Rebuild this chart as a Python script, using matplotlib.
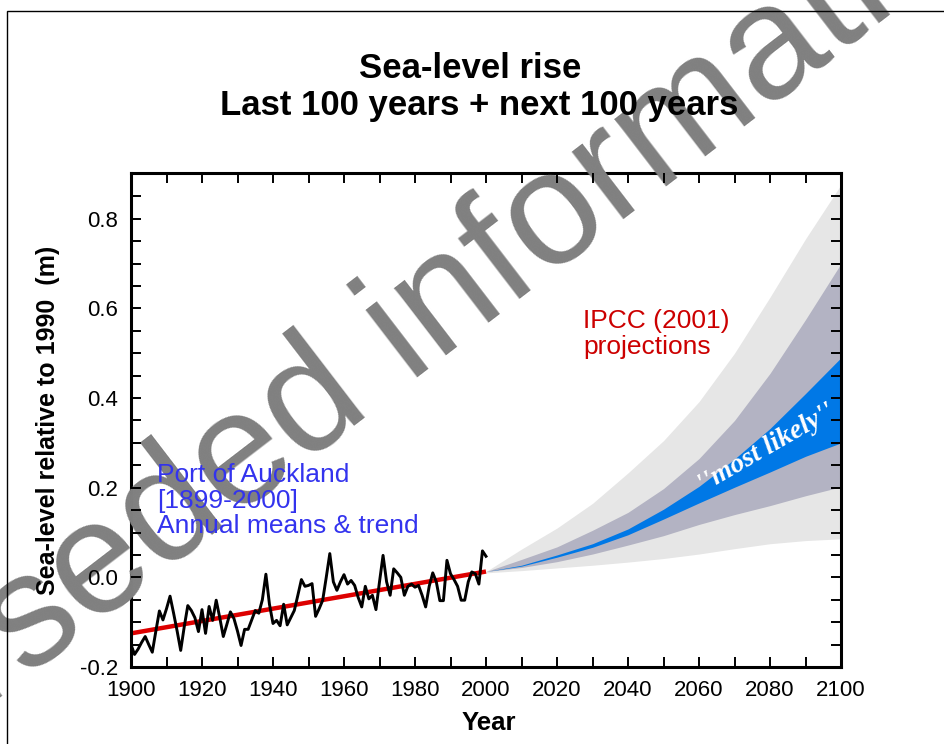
import matplotlib
matplotlib.use("Agg")
import matplotlib.pyplot as plt
from matplotlib.patches import Rectangle
import numpy as np

# ---------------- data ----------------
years_obs = list(range(1900, 2001))
sea_level_obs = [
    -0.150, -0.172, -0.160, -0.145, -0.132, -0.150, -0.167, -0.120, -0.075, -0.095,
    -0.070, -0.042, -0.080, -0.120, -0.163, -0.110, -0.063, -0.074, -0.090, -0.121,
    -0.072, -0.125, -0.065, -0.096, -0.051, -0.090, -0.132, -0.105, -0.077, -0.092,
    -0.120, -0.152, -0.116, -0.116, -0.095, -0.074, -0.080, -0.050, 0.007, -0.060,
    -0.103, -0.096, -0.108, -0.060, -0.106, -0.090, -0.074, -0.040, -0.005, -0.020,
    -0.018, -0.014, -0.087, -0.070, -0.051, 0.000, 0.053, -0.010, -0.029, -0.010,
    0.006, -0.015, -0.007, -0.018, -0.045, -0.066, -0.020, -0.048, -0.040, -0.072,
    -0.010, 0.049, -0.010, -0.040, 0.019, 0.010, 0.000, -0.040, -0.020, -0.015,
    -0.022, -0.018, -0.040, -0.066, -0.020, 0.010, -0.010, -0.052, -0.052, 0.038,
    0.008, -0.005, -0.020, -0.051, -0.051, -0.010, 0.012, 0.008, -0.015, 0.059,
    0.047,
]
trend_years = [1900, 2000]
trend_values = [-0.125, 0.013]

proj_years = [2000, 2010, 2020, 2030, 2040, 2050, 2060, 2070, 2080, 2090, 2100]
outer_upper = [0.013, 0.063, 0.110, 0.165, 0.233, 0.305, 0.392, 0.500, 0.625, 0.755, 0.876]
mid_upper   = [0.013, 0.040, 0.068, 0.105, 0.145, 0.198, 0.265, 0.350, 0.455, 0.575, 0.700]
likely_upper = [0.013, 0.027, 0.050, 0.075, 0.108, 0.152, 0.203, 0.264, 0.332, 0.410, 0.490]
likely_lower = [0.013, 0.025, 0.045, 0.067, 0.095, 0.130, 0.166, 0.201, 0.235, 0.270, 0.300]
mid_lower   = [0.013, 0.022, 0.035, 0.052, 0.072, 0.093, 0.118, 0.140, 0.160, 0.182, 0.202]
outer_lower = [0.010, 0.015, 0.021, 0.027, 0.034, 0.042, 0.052, 0.064, 0.075, 0.082, 0.086]

xticks = [1900, 1920, 1940, 1960, 1980, 2000, 2020, 2040, 2060, 2080, 2100]
yticks = [-0.2, 0.0, 0.2, 0.4, 0.6, 0.8]
ytick_labels = ["-0.2", "0.0", "0.2", "0.4", "0.6", "0.8"]

# ---------------- figure ----------------
plt.rcParams['font.family'] = ['Liberation Sans', 'DejaVu Sans']
fig = plt.figure(figsize=(9.44, 7.44), dpi=100)
W, H = 944, 744
ax = fig.add_axes([131 / W, 1 - 667 / H, 710 / W, 494 / H])

# outer frame of the page
fig.patches.append(Rectangle((7 / W, -0.2), 1.5, 1 - 11 / H + 0.2,
                             transform=fig.transFigure, fill=False,
                             edgecolor='black', linewidth=1.0, zorder=0))

ax.fill_between(proj_years, outer_lower, outer_upper, color='#e6e6e6', lw=0, zorder=1)
ax.fill_between(proj_years, mid_lower, mid_upper, color='#b3b3c3', lw=0, zorder=1.1)
ax.fill_between(proj_years, likely_lower, likely_upper, color='#0078e6', lw=0, zorder=1.2)

ax.plot(trend_years, trend_values, color='#dd0000', lw=3.2, solid_capstyle='butt', zorder=2)
ax.plot(years_obs, sea_level_obs, color='black', lw=2.1, zorder=2.1)

ax.set_xlim(1900, 2100)
ax.set_ylim(-0.2, 0.902)
ax.set_xticks(xticks)
ax.set_xticks(np.arange(1900, 2101, 10), minor=True)
ax.set_yticks(yticks)
ax.set_yticklabels(ytick_labels)
ax.set_yticks(np.arange(-0.2, 0.901, 0.05), minor=True)

for s in ax.spines.values():
    s.set_linewidth(2.2)
ax.tick_params(which='both', direction='in', top=True, right=True,
               length=7, width=1.4, labelsize=16)
ax.tick_params(axis='x', pad=9)
ax.tick_params(axis='y', pad=9.5)

ax.set_xlabel('Year', fontsize=18.5, fontweight='bold')
ax.xaxis.set_label_coords(0.504, -0.090)
ax.set_ylabel('Sea-level relative to 1990  (m)', fontsize=18, fontweight='bold')
ax.yaxis.set_label_coords(-0.100, 0.5)
ax.xaxis.set_zorder(3)
ax.yaxis.set_zorder(3)

fig.text(0.498, 1 - 69 / H, 'Sea-level rise', ha='center', va='center',
         fontsize=25, fontweight='bold', zorder=5)
fig.text(0.508, 1 - 105 / H, 'Last 100 years + next 100 years', ha='center', va='center',
         fontsize=25, fontweight='bold', zorder=5)

ax.text(1907.3, 0.255, 'Port of Auckland\n[1899-2000]\nAnnual means & trend',
        color='#3333ee', fontsize=19, ha='left', va='top', linespacing=1.08, zorder=4)
ax.text(2027.3, 0.598, 'IPCC (2001)\nprojections', color='#cc0000', fontsize=19,
        ha='left', va='top', linespacing=1.08, zorder=4)
ax.text(2079, 0.286, "''most likely''", color='white', fontsize=20, family='Liberation Serif',
        style='italic', fontweight='bold', rotation=30, ha='center', va='center',
        rotation_mode='anchor', zorder=4)

# watermark
ax.text(338 / W, 1 - 386 / H, 'Superseded information', transform=fig.transFigure,
        color='#808080', fontsize=116, rotation=37.5, ha='center', va='center',
        rotation_mode='anchor', clip_on=False, zorder=2.7)

fig.savefig('out.png', dpi=100)
